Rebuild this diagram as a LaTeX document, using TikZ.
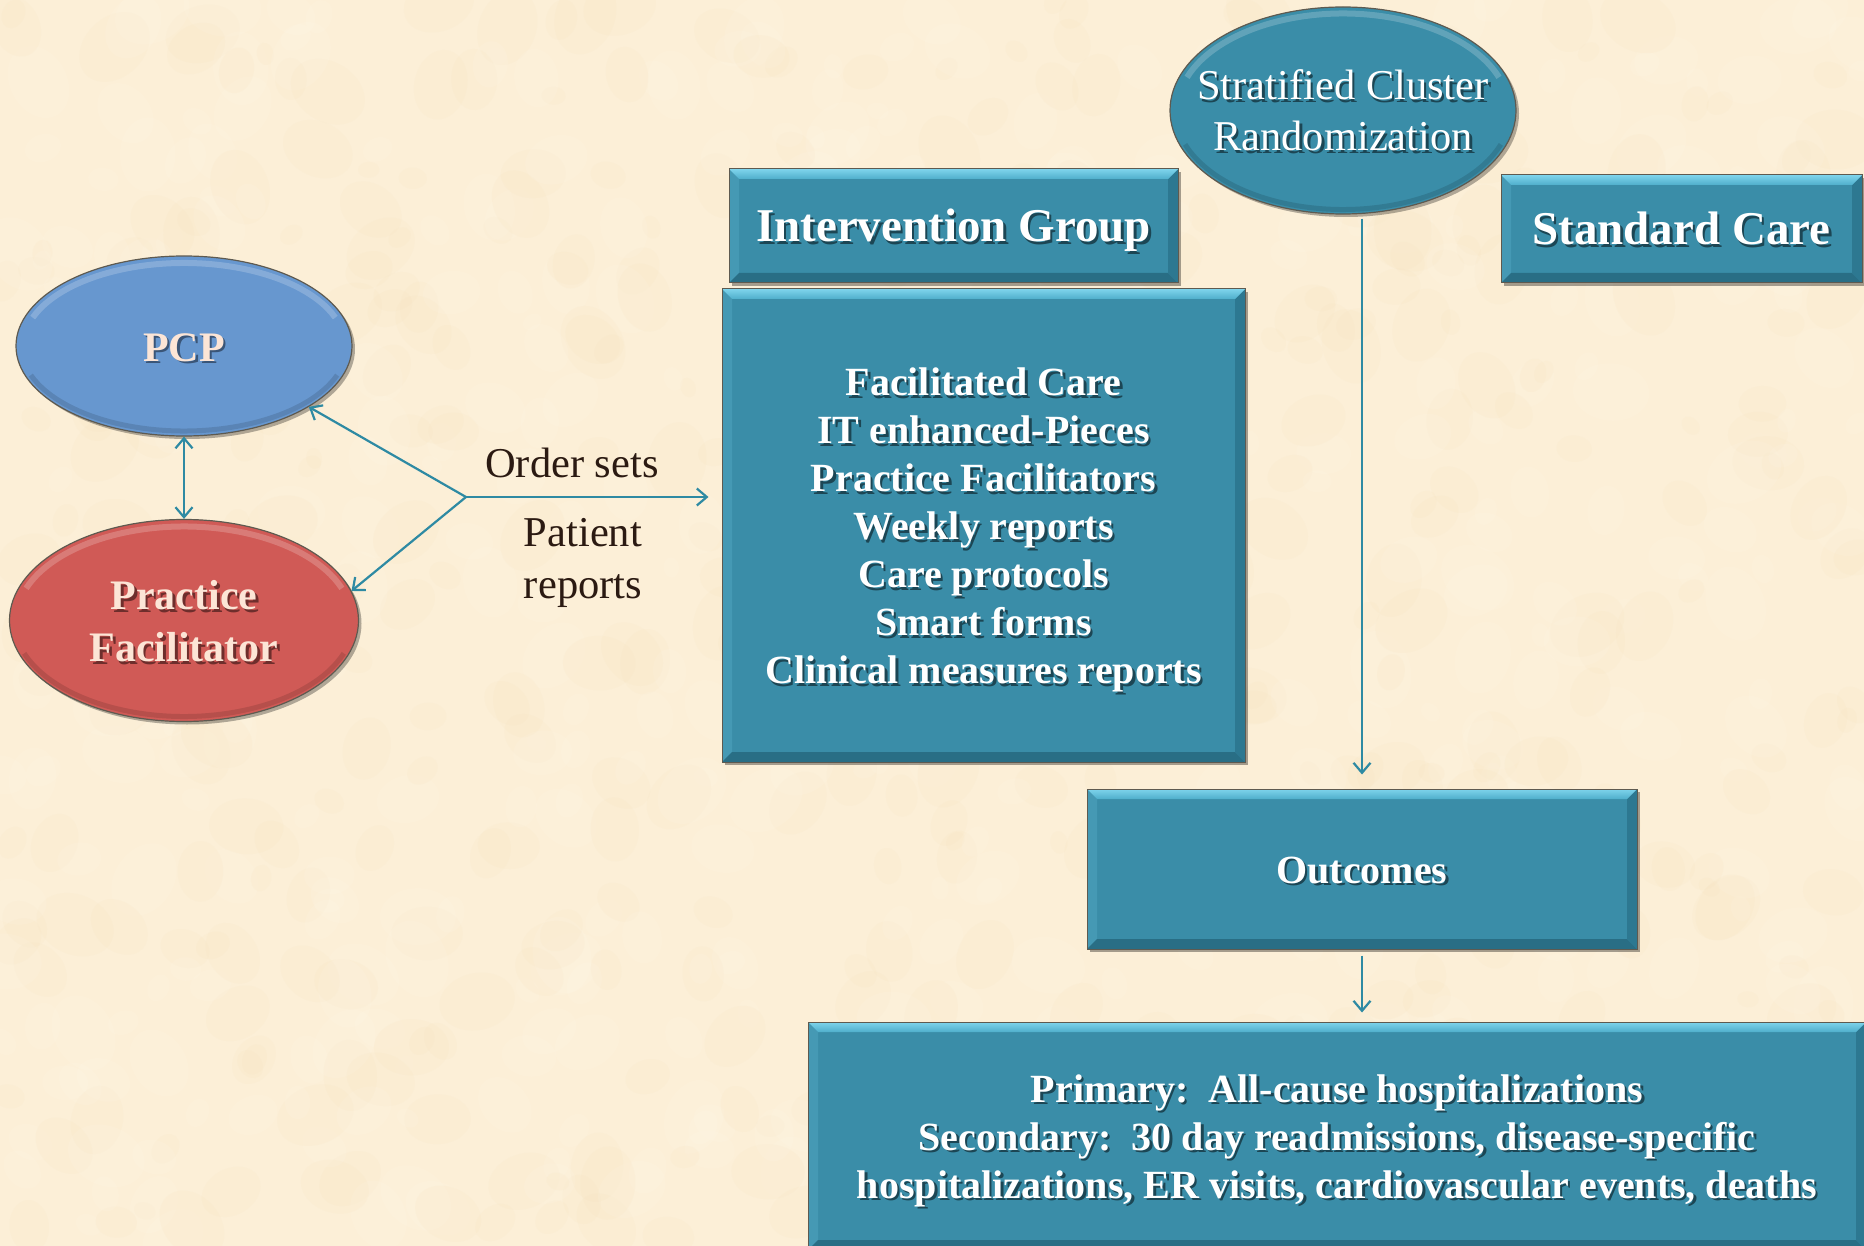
\documentclass[tikz,border=0pt]{standalone}
\usepackage{fontspec}
\setmainfont{Liberation Serif}
\usetikzlibrary{shapes.geometric,arrows.meta,shadows}

\definecolor{paper}{HTML}{FCEFD7}
\definecolor{mottleA}{HTML}{F5E0B9}
\definecolor{mottleB}{HTML}{FFF9EC}
\definecolor{teal}{HTML}{3A8DA8}
\definecolor{tealtopA}{HTML}{7ED4EC}
\definecolor{tealtopB}{HTML}{4FAECB}
\definecolor{tealleft}{HTML}{4599B4}
\definecolor{tealright}{HTML}{2D7891}
\definecolor{tealbottom}{HTML}{296E85}
\definecolor{edge}{HTML}{5E5A50}
\definecolor{conn}{HTML}{2E8AA3}
\definecolor{pcpblue}{HTML}{6797CF}
\definecolor{pfred}{HTML}{D05A56}
\definecolor{peach}{HTML}{FCE5D6}
\definecolor{inkdark}{HTML}{2B1A12}
\definecolor{shteal}{HTML}{1C4654}
\definecolor{shblue}{HTML}{3A5577}
\definecolor{shred}{HTML}{6E2E2C}

% text with a small dark shadow behind it, set a little low in its box
\newcommand\shtxt[2][shteal]{%
  \raisebox{-6pt}[\height][\depth]{%
  \rlap{\kern2.5pt\raisebox{-2.5pt}{\color{#1}\begin{tabular}{@{}c@{}}#2\end{tabular}}}%
  \begin{tabular}{@{}c@{}}#2\end{tabular}}}

\begin{document}
\begin{tikzpicture}[x=1pt,y=-1pt,
  >={Straight Barb[length=10pt,width=17pt]},
  conn/.style={draw=conn,line width=2.2pt},
  bevelbox/.style={rectangle,inner sep=0pt,fill=teal,draw=edge,line width=1pt,
    drop shadow={shadow xshift=3pt,shadow yshift=-3pt,opacity=.35,fill=black},
    path picture={
      \path (path picture bounding box.north west) coordinate (bNW)
            (path picture bounding box.north east) coordinate (bNE)
            (path picture bounding box.south west) coordinate (bSW)
            (path picture bounding box.south east) coordinate (bSE);
      \fill[tealleft] (bNW) -- ([xshift=10pt,yshift=-10pt]bNW) -- ([xshift=10pt,yshift=10pt]bSW) -- (bSW) -- cycle;
      \fill[tealbottom] (bSW) -- (bSE) -- ([xshift=-10pt,yshift=10pt]bSE) -- ([xshift=10pt,yshift=10pt]bSW) -- cycle;
      \fill[tealright] (bNE) -- (bSE) -- ([xshift=-10pt,yshift=10pt]bSE) -- ([xshift=-10pt,yshift=-10pt]bNE) -- cycle;
      \shade[top color=tealtopA,bottom color=tealtopB] (bNW) -- (bNE) -- ([xshift=-10pt,yshift=-10pt]bNE) -- ([xshift=10pt,yshift=-10pt]bNW) -- cycle;
    }},
  oval/.style={ellipse,inner sep=0pt,draw=edge,line width=1.2pt,
    drop shadow={shadow xshift=3pt,shadow yshift=-3pt,opacity=.3,fill=black}},
  hdr/.style={font=\fontsize{47}{56}\selectfont\bfseries,text=white},
  body/.style={font=\fontsize{40}{48}\selectfont\bfseries,text=white},
  ovalbold/.style={font=\fontsize{42}{52}\selectfont\bfseries,text=peach},
  ovalplain/.style={font=\fontsize{42.5}{51}\selectfont,text=white,inner sep=0pt},
  note/.style={font=\fontsize{42.5}{52}\selectfont,text=inkdark,align=center,inner sep=0pt},
  rimlight/.style={line width=6pt,draw=white,opacity=.2},
  rimdark/.style={line width=5pt,draw=black,opacity=.12}]

\useasboundingbox (0,0) rectangle (1864,1246);

% parchment background
\begin{scope}
  \clip (0,0) rectangle (1864,1246);
  \fill[paper] (0,0) rectangle (1864,1246);
  \pgfmathsetseed{41}
  \foreach \i in {1,...,900}{
    \pgfmathsetmacro\mx{rnd*1864}
    \pgfmathsetmacro\my{rnd*1246}
    \pgfmathsetmacro\mr{10+rnd*30}
    \pgfmathsetmacro\mk{rnd}
    \pgfmathsetmacro\ma{rnd*180}
    \ifdim\mk pt<0.5pt \def\mc{mottleA}\else\def\mc{mottleB}\fi
    \fill[\mc,opacity=0.13,rotate around={\ma:(\mx,\my)}] (\mx,\my) ellipse ({\mr} and {\mr*0.75});
  }
\end{scope}

% left-hand ovals
\node[oval,fill=pcpblue,minimum width=336pt,minimum height=180pt,ovalbold] (pcp) at (184,346) {\shtxt[shblue]{PCP}};
\node[oval,fill=pfred,minimum width=349pt,minimum height=202pt,ovalbold] (pf) at (184,620.5) {\shtxt[shred]{Practice\\Facilitator}};
\draw[rimlight] (pcp.center) ++(200:161 and 83) arc[start angle=200,end angle=340,x radius=161,y radius=83];
\draw[rimdark] (pcp.center) ++(20:163 and 85) arc[start angle=20,end angle=160,x radius=163,y radius=85];
\draw[rimlight] (pf.center) ++(200:168 and 94) arc[start angle=200,end angle=340,x radius=168,y radius=94];
\draw[rimdark] (pf.center) ++(20:170 and 96) arc[start angle=20,end angle=160,x radius=170,y radius=96];

% randomization oval, its text set on top
\node[oval,fill=teal,minimum width=346pt,minimum height=207pt] (strat) at (1343,110.5) {};
\draw[rimlight] (strat.center) ++(200:166 and 97) arc[start angle=200,end angle=340,x radius=166,y radius=97];
\draw[rimdark] (strat.center) ++(20:168 and 99) arc[start angle=20,end angle=160,x radius=168,y radius=99];
\node[ovalplain] (strattext) at (strat.center) {\shtxt{Stratified Cluster\\Randomization}};

% boxes
\node[bevelbox,minimum width=449pt,minimum height=114pt,hdr] (ig) at (953.5,226) {\shtxt{Intervention Group}};
\node[bevelbox,minimum width=523pt,minimum height=473pt,body] (big) at (983.5,525.5)
  {\shtxt{Facilitated Care\\IT enhanced-Pieces\\Practice Facilitators\\Weekly reports\\Care protocols\\Smart forms\\Clinical measures reports}};
\node[bevelbox,minimum width=361pt,minimum height=108pt,hdr] (sc) at (1681.5,229) {\shtxt{Standard Care}};
\node[bevelbox,minimum width=550pt,minimum height=160pt,body] (out) at (1362,869) {\shtxt{Outcomes}};
\node[bevelbox,minimum width=1058pt,minimum height=228pt,body] (prim) at (1337,1136)
  {\shtxt{Primary:\ \ All-cause hospitalizations\\Secondary:\ \ 30 day readmissions, disease-specific\\hospitalizations, ER visits, cardiovascular events, deaths}};

% labels on the feedback link
\node[note] (orders) at (572,463) {Order sets};
\node[note] (reports) at (583,563) {Patient\\reports};

% connectors
\coordinate (hub) at (466,497);
\draw[conn,<->] (pcp.south) -- (pf.north);
\draw[conn,->] (hub) -- (pcp.-26);
\draw[conn,->] (hub) -- (pf.10);
\draw[conn,->,shorten >=13pt] (hub) -- (hub -| big.west);
\draw[conn,->,shorten <=4pt,shorten >=14pt] (strat.south -| out.north) -- (out.north);
\draw[conn,->,shorten <=6pt,shorten >=9pt] (out.south) -- (out.south |- prim.north);
\end{tikzpicture}
\end{document}
